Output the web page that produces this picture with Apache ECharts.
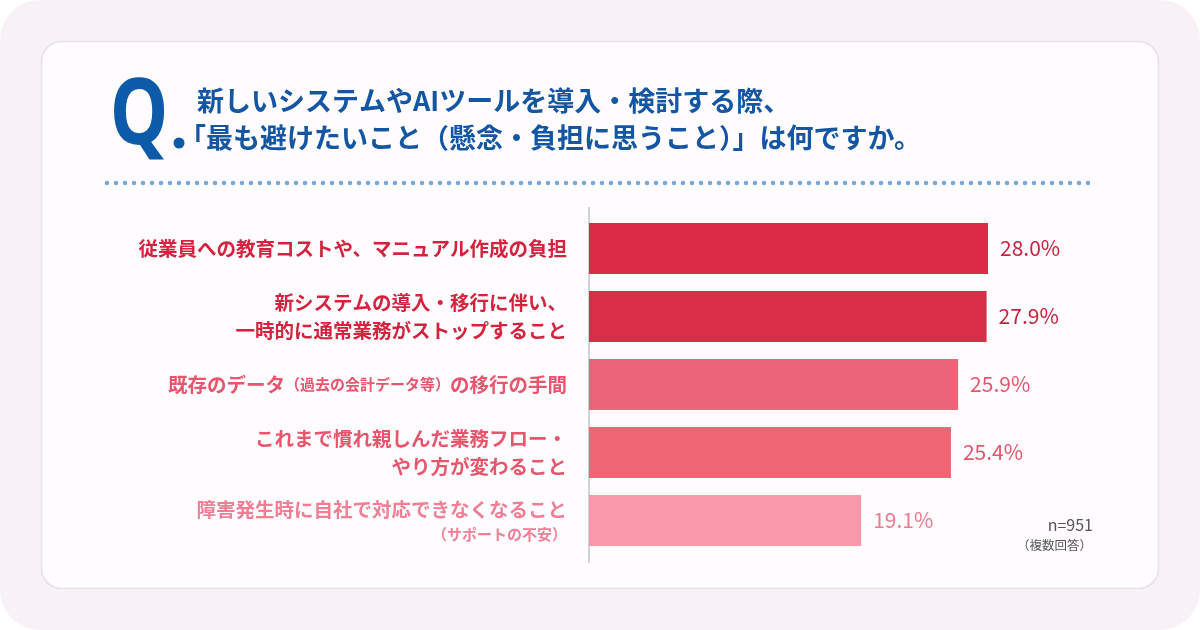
<!DOCTYPE html>
<html><head><meta charset="utf-8">
<script src="https://cdn.jsdelivr.net/npm/echarts@6/dist/echarts.min.js"></script>
<style>html,body{margin:0;padding:0;background:#fff}#c{width:1200px;height:630px}</style>
</head><body><div id="c"></div>
<script>
const titleLines = ['新しいシステムやAIツールを導入・検討する際、', '「最も避けたいこと（懸念・負担に思うこと）」は何ですか。'];
const categories = [
  '従業員への教育コストや、マニュアル作成の負担',
  '新システムの導入・移行に伴い、\n一時的に通常業務がストップすること',
  '既存のデータ（過去の会計データ等）の移行の手間',
  'これまで慣れ親しんだ業務フロー・\nやり方が変わること',
  '障害発生時に自社で対応できなくなること\n（サポートの不安）'
];
const values = [28.0, 27.9, 25.9, 25.4, 19.1];
const tiers = [0, 0, 1, 1, 2];
const barColors = ['#dc2c45', '#d92d48', '#ec6479', '#f06574', '#f99aab'];
const labelColors = ['#d3233f', '#e8566d', '#ef7f95'];
const valueColors = ['#c9223f', '#c9223f', '#e5566d', '#e5566d', '#e97a8f'];
const noteLines = ['n=951', '（複数回答）'];

const FONT = '"Noto Sans CJK JP", "Noto Sans", sans-serif';
const chart = echarts.init(document.getElementById('c'), null, {renderer: 'canvas'});

const rich = {};
labelColors.forEach((c, i) => {
  rich['a' + i] = {color: c, fontSize: 19.5, fontWeight: 'bold', fontFamily: FONT, lineHeight: 28, align: 'right'};
  rich['s' + i] = {color: c, fontSize: 15, fontWeight: 'bold', fontFamily: FONT, lineHeight: 21, align: 'right'};
});

function fmtLabel(v, idx) {
  const t = tiers[idx];
  return v.split('\n').map(line => {
    const parts = line.split(/(（[^）]*）)/).filter(p => p.length);
    return parts.map(p => p.startsWith('（') ? `{s${t}|${p}}` : `{a${t}|${p}}`).join('');
  }).join('\n');
}

const option = {
  backgroundColor: '#ffffff',
  animation: false,
  grid: {left: 589, top: 214.5, height: 340, width: 570},
  xAxis: {type: 'value', min: 0, max: 40, show: false},
  yAxis: {
    type: 'category', data: categories, inverse: true,
    axisLine: {show: false}, axisTick: {show: false},
    axisLabel: {margin: 22, formatter: fmtLabel, rich: rich, align: 'right'}
  },
  series: [{
    type: 'bar', barWidth: 51, z: 3,
    data: values.map((v, i) => ({value: v, itemStyle: {color: barColors[i]},
      label: {color: valueColors[i]}})),
    label: {show: true, position: 'right', distance: 12, fontSize: 21, fontFamily: FONT,
      formatter: p => p.value.toFixed(1) + '%'}
  }],
  graphic: [
    {type: 'rect', z: -20, shape: {x: 0, y: 0, width: 1200, height: 630, r: 40}, style: {fill: '#f8f2f6'}},
    {type: 'rect', z: -19, shape: {x: 41.5, y: 41.5, width: 1117, height: 547, r: 20}, style: {fill: '#fefcfe', stroke: '#e7e0e6', lineWidth: 1.5}},
    {type: 'line', z: -5, shape: {x1: 107, y1: 183, x2: 1093, y2: 183}, style: {stroke: '#74a9dc', lineWidth: 4.5, lineDash: [0, 9], lineCap: 'round'}},
    {type: 'line', z: 1, shape: {x1: 589, y1: 207, x2: 589, y2: 563}, style: {stroke: '#cfd3d7', lineWidth: 2}},
    {type: 'text', z: 5, x: 110, y: 72, scaleX: 0.8, style: {text: 'Q', fontSize: 92, fontWeight: 'bold', fontFamily: '"Noto Sans", sans-serif', fill: '#0c5aa8'}},
    {type: 'circle', z: 5, shape: {cx: 179, cy: 143, r: 5.5}, style: {fill: '#0c5aa8'}},
    {type: 'text', z: 5, x: 197, y: 87, style: {text: titleLines[0], fontSize: 27, fontWeight: 'bold', fontFamily: FONT, fill: '#1456a2'}},
    {type: 'text', z: 5, x: 179, y: 124, style: {text: titleLines[1], fontSize: 27, fontWeight: 'bold', fontFamily: FONT, fill: '#1456a2'}},
    {type: 'text', z: 5, x: 1093, y: 517, style: {text: noteLines[0], fontSize: 16, fontFamily: FONT, fill: '#555555', align: 'right'}},
    {type: 'text', z: 5, x: 1092, y: 539, style: {text: noteLines[1], fontSize: 12.5, fontFamily: FONT, fill: '#555555', align: 'right'}}
  ]
};
chart.setOption(option);
</script></body></html>
